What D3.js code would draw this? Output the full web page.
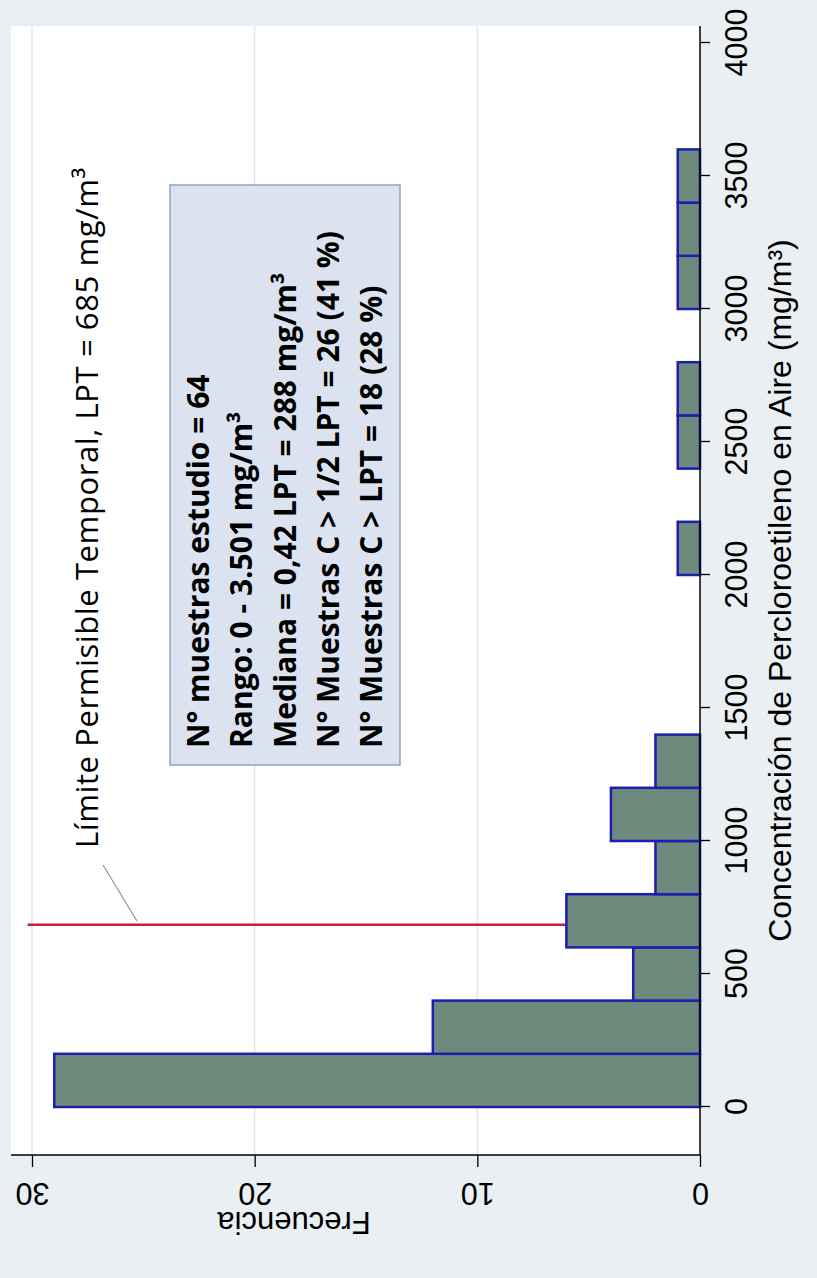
<!DOCTYPE html>
<html>
<head>
<meta charset="utf-8">
<script src="https://cdn.jsdelivr.net/npm/d3@7/dist/d3.min.js"></script>
<style>
  body { margin: 0; background: #e9eff2; }
</style>
</head>
<body>
<svg width="817" height="1278"></svg>
<script>
// histogram of concentrations (mg/m3), bins of 200
const binStarts = [0, 200, 400, 600, 800, 1000, 1200, 2000, 2400, 2600, 3000, 3200, 3400];
const binCounts = [29, 12, 3, 6, 2, 4, 2, 1, 1, 1, 1, 1, 1];
const binWidth = 200;
const concTicks = [0, 500, 1000, 1500, 2000, 2500, 3000, 3500, 4000];
const freqTicks = [0, 10, 20, 30];
const lpt = 685;
const lptLabel = "Límite Permisible Temporal, LPT = 685 mg/m³";
const statsLines = [
  "N° muestras estudio = 64",
  "Rango: 0 - 3.501 mg/m³",
  "Mediana = 0,42 LPT = 288 mg/m³",
  "N° Muestras C > 1/2 LPT = 26 (41 %)",
  "N° Muestras C > LPT = 18 (28 %)"
];
const xTitle = "Concentración de Percloroetileno en Aire (mg/m³)";
const yTitle = "Frecuencia";

const bins = binStarts.map((s, i) => ({start: s, count: binCounts[i]}));

function drawChart() {
  const svg = d3.select("svg");
  const W = 1278; // the graph is drawn turned on its side
  const axisFont = "'Liberation Sans', Arial, sans-serif";
  const noteFont = "'Open Sans', Lato, sans-serif";

  svg.append("rect")
    .attr("width", 817).attr("height", 1278)
    .attr("fill", "#e9eff2");

  // everything in a rotated frame, like the original turned 90deg
  const g = svg.append("g")
    .attr("transform", `translate(0,${W}) rotate(-90)`);

  const plotL = 123, plotR = 1252, plotT = 11, plotB = 700;

  g.append("rect")
    .attr("x", plotL).attr("y", plotT)
    .attr("width", plotR - plotL).attr("height", plotB - plotT)
    .attr("fill", "#ffffff");

  let xScale = d3.scaleLinear().domain([0, 4000]).range([171, 1235]);
  let yScale = d3.scaleLinear().domain([0, 30]).range([700, 32]);

  // gridlines
  g.selectAll("line.grid")
    .data(freqTicks.filter(d => d > 0))
    .enter().append("line")
    .attr("class", "grid")
    .attr("x1", plotL).attr("x2", plotR)
    .attr("y1", d => yScale(d)).attr("y2", d => yScale(d))
    .attr("stroke", "#e3e8eb")
    .attr("stroke-width", 1.5);

  // LPT line
  g.append("line")
    .attr("x1", xScale(lpt)).attr("x2", xScale(lpt))
    .attr("y1", yScale(0)).attr("y2", yScale(30.2))
    .attr("stroke", "#c4213f")
    .attr("stroke-width", 2.5);

  // bars
  g.selectAll("rect.bar")
    .data(bins)
    .enter().append("rect")
    .attr("class", "bar")
    .attr("x", d => xScale(d.start))
    .attr("width", d => xScale(d.start + binWidth) - xScale(d.start))
    .attr("y", d => yScale(d.count))
    .attr("height", d => yScale(0) - yScale(d.count))
    .attr("fill", "#6d8a7c")
    .attr("stroke", "#1d1db0")
    .attr("stroke-width", 2.5);

  // x axis (concentration)
  let xAxis = d3.axisBottom(xScale).tickValues(concTicks)
    .tickFormat(d3.format("d"))
    .tickSize(10).tickSizeOuter(0);
  let xAxisG = g.append("g")
    .attr("transform", `translate(0,${plotB})`)
    .call(xAxis);
  xAxisG.select(".domain").remove();
  xAxisG.selectAll("text")
    .attr("y", 47).attr("dy", null)
    .style("font-family", axisFont)
    .style("font-size", "30.5px")
    .attr("fill", "#000");
  xAxisG.selectAll("line").attr("stroke", "#000").attr("stroke-width", 1.3);
  g.append("line")
    .attr("x1", plotL).attr("x2", plotR)
    .attr("y1", plotB).attr("y2", plotB)
    .attr("stroke", "#000").attr("stroke-width", 1.5);

  // y axis (frequency)
  let yAxis = d3.axisLeft(yScale).tickValues(freqTicks)
    .tickSize(12).tickSizeOuter(0);
  let yAxisG = g.append("g")
    .attr("transform", `translate(${plotL},0)`)
    .call(yAxis);
  yAxisG.select(".domain").remove();
  yAxisG.selectAll("line").attr("stroke", "#000").attr("stroke-width", 1.3);
  yAxisG.selectAll("text")
    .attr("x", null).attr("dy", null)
    .attr("transform", "translate(-28,0) rotate(-90)")
    .attr("text-anchor", "middle")
    .style("font-family", axisFont)
    .style("font-size", "30.5px")
    .attr("fill", "#000");
  g.append("line")
    .attr("x1", plotL).attr("x2", plotL)
    .attr("y1", plotT).attr("y2", plotB)
    .attr("stroke", "#000").attr("stroke-width", 1.5);

  // axis titles
  g.append("text")
    .attr("x", (plotL + plotR) / 2).attr("y", 791)
    .attr("text-anchor", "middle")
    .style("font-family", axisFont)
    .style("font-size", "32px")
    .text(xTitle);

  g.append("text")
    .attr("transform", "translate(66,294) rotate(-90)")
    .attr("text-anchor", "middle")
    .style("font-family", axisFont)
    .style("font-size", "31px")
    .text(yTitle);

  // LPT annotation
  g.append("line")
    .attr("x1", 413).attr("y1", 103)
    .attr("x2", 357).attr("y2", 137)
    .attr("stroke", "#8a969e").attr("stroke-width", 1.2);
  g.append("text")
    .attr("x", 430).attr("y", 98)
    .style("font-family", noteFont)
    .style("font-size", "31px")
    .style("letter-spacing", "0.6px")
    .attr("fill", "#000")
    .text(lptLabel);

  // stats box
  g.append("rect")
    .attr("x", 513).attr("y", 170)
    .attr("width", 580).attr("height", 230)
    .attr("fill", "#dae3ef")
    .attr("stroke", "#8fa5c4")
    .attr("stroke-width", 1.5);
  g.selectAll("text.stat")
    .data(statsLines)
    .enter().append("text")
    .attr("class", "stat")
    .attr("x", 530)
    .attr("y", (d, i) => 209 + i * 43.3)
    .style("font-family", noteFont)
    .style("font-weight", "bold")
    .style("font-size", "30px")
    .attr("fill", "#000")
    .text(d => d);
}

drawChart();
</script>
</body>
</html>
